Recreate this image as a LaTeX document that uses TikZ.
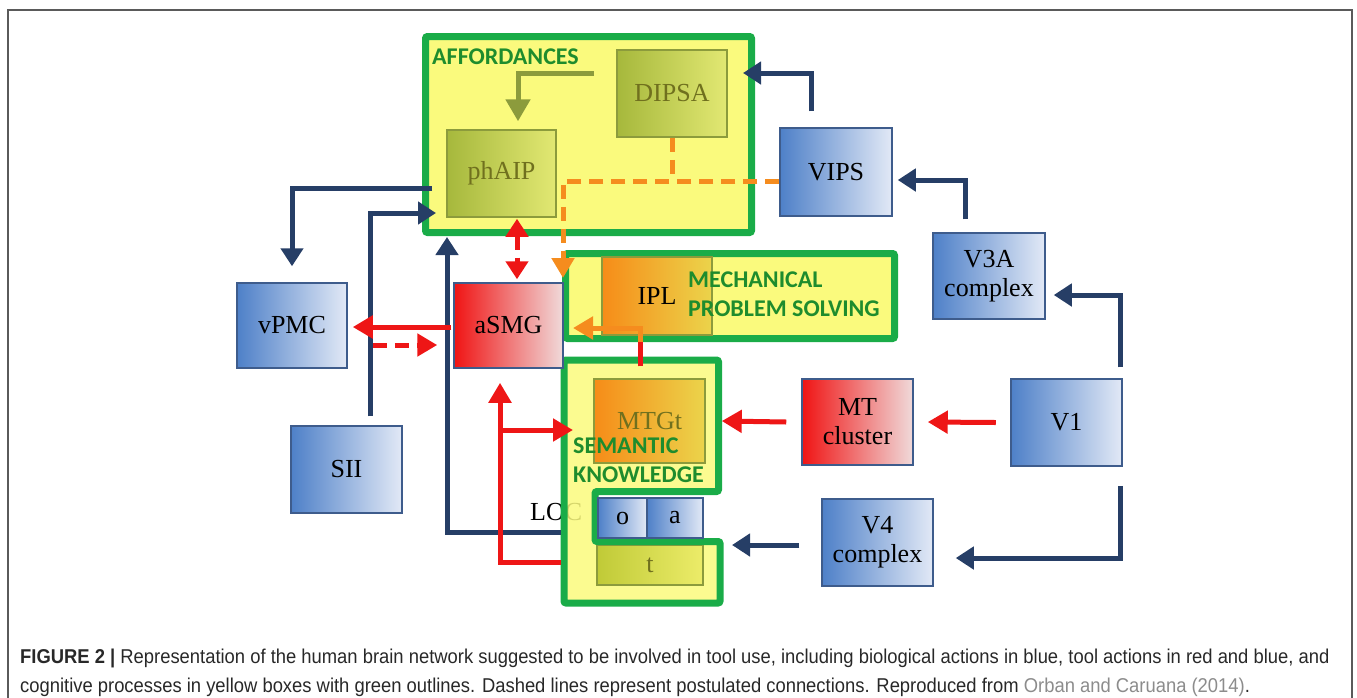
\documentclass[tikz,border=0pt]{standalone}
\usepackage{fontspec}
\setmainfont{Liberation Serif}
\newfontfamily\lblfont{Carlito}
\newfontfamily\capfont[FakeStretch=0.92]{Liberation Sans}
\usetikzlibrary{arrows.meta}
\definecolor{navy}{RGB}{38,62,102}
\definecolor{rred}{RGB}{238,22,22}
\definecolor{gborder}{RGB}{26,172,72}
\definecolor{gtext}{RGB}{30,140,45}
\definecolor{yfill}{RGB}{250,250,125}
\definecolor{bleft}{RGB}{78,128,200}
\definecolor{bright}{RGB}{226,233,246}
\definecolor{bline}{RGB}{62,92,140}
\definecolor{rleft}{RGB}{240,20,20}
\definecolor{rright}{RGB}{240,218,218}
\definecolor{oleft}{RGB}{246,140,24}
\definecolor{oright}{RGB}{235,212,75}
\definecolor{olleft}{RGB}{166,184,60}
\definecolor{olright}{RGB}{226,232,115}
\definecolor{tleft}{RGB}{192,202,55}
\definecolor{tright}{RGB}{236,236,105}
\definecolor{olline}{RGB}{140,155,60}
\definecolor{oltext}{RGB}{112,112,30}
\definecolor{orline}{RGB}{245,140,30}
\definecolor{capgray}{RGB}{40,40,40}
\definecolor{linkgray}{RGB}{140,140,140}
\definecolor{framegray}{RGB}{90,90,90}
\tikzset{
  boxbase/.style={draw, line width=1.5pt, inner sep=0pt, align=center,
    font=\fontsize{26}{29}\selectfont},
  bluebox/.style={boxbase, draw=bline, left color=bleft, right color=bright},
  redbox/.style={boxbase, draw=bline, left color=rleft, right color=rright},
  olbox/.style={boxbase, draw=olline, left color=olleft, right color=olright, text=oltext},
  orbox/.style={boxbase, draw=olline, left color=oleft, right color=oright},
  tbox/.style={boxbase, draw=olline, left color=tleft, right color=tright, text=oltext},
  gframe/.style={draw=gborder, line width=7pt, rounded corners=2pt},
  glabel/.style={anchor=base west, text=gtext, align=left,
    font=\lblfont\bfseries\fontsize{24}{29}\selectfont, inner sep=0pt},
  nav/.style={draw=navy, line width=5pt, -{Triangle[width=22pt,length=18pt]}},
  redarr/.style={draw=rred, line width=5pt, -{Triangle[width=22pt,length=20pt]}},
  orarr/.style={draw=orline, line width=5pt, -{Triangle[width=22pt,length=20pt]}},
  dsh/.style={dash pattern=on 14pt off 8pt},
  capline/.style={anchor=base west, inner sep=0pt, text=capgray,
    font=\capfont\fontsize{20}{24}\selectfont}
}
\begin{document}
\begin{tikzpicture}[x=1pt,y=-1pt]
\useasboundingbox (0,0) rectangle (1357,697);
\clip (0,0) rectangle (1357,697);
\draw[framegray, line width=1.5pt] (8,10) rectangle (1352,740);

% ---------- yellow frames ----------
\node[gframe, fill=yfill, minimum width=326pt, minimum height=196pt, inner sep=0pt] (aff) at (588.5,134.5) {};
\node[glabel] (afflbl) at (432,64) {AFFORDANCES};
\node[olbox, minimum width=110pt, minimum height=87pt] (dipsa) at (672,93.5) {DIPSA};
\node[olbox, minimum width=109pt, minimum height=87pt] (phaip) at (501.5,173.5) {phAIP};

\node[gframe, fill=yfill, minimum width=329pt, minimum height=85pt, inner sep=0pt] (mech) at (730,296) {};
\node[orbox, minimum width=110pt, minimum height=78pt] (ipl) at (657,296) {IPL};
\node[glabel] (mechlbl) at (688,316) {MECHANICAL\\PROBLEM SOLVING};

\node[anchor=base west, inner sep=0pt, font=\fontsize{26}{29}\selectfont] (loc) at (530,520) {LOC};
\path[fill=yfill, fill opacity=0.85] (564,360) -- (718.5,360) -- (718.5,491.5) -- (595,491.5)
  -- (595,541.5) -- (720,541.5) -- (720,603) -- (564,603) -- cycle;
\node[orbox, minimum width=111pt, minimum height=84pt, text=oltext] (mtgt) at (649.5,421) {MTGt};
\node[tbox, minimum width=106pt, minimum height=40pt] (t) at (650,565) {t};
\draw[gframe] (564,360) -- (718.5,360) -- (718.5,491.5) -- (595,491.5)
  -- (595,541.5) -- (720,541.5) -- (720,603) -- (564,603) -- cycle;
\node[glabel] (semlbl) at (573,482) {SEMANTIC\\KNOWLEDGE};
\node[bluebox, minimum width=49pt, minimum height=40pt] (o) at (622.5,518) {o};
\node[bluebox, minimum width=56pt, minimum height=40pt] (a) at (675,518) {a};

% ---------- other boxes ----------
\node[bluebox, minimum width=110pt, minimum height=85pt] (vpmc) at (292,325.5) {vPMC};
\node[redbox, minimum width=109pt, minimum height=85pt] (asmg) at (508.5,325.5) {aSMG};
\node[bluebox, minimum width=111pt, minimum height=87pt] (sii) at (346.5,469.5) {SII};
\node[bluebox, minimum width=112pt, minimum height=88pt] (vips) at (836,172) {VIPS};
\node[bluebox, minimum width=112pt, minimum height=86pt] (v3a) at (989,276) {V3A\\complex};
\node[bluebox, minimum width=111pt, minimum height=87pt] (v1) at (1066.5,422.5) {V1};
\node[redbox, minimum width=111pt, minimum height=86pt] (mt) at (857.5,422) {MT\\cluster};
\node[bluebox, minimum width=111pt, minimum height=87pt] (v4) at (877.5,542.5) {V4\\complex};

% ---------- free ends ----------
\coordinate (affin) at (743,73);
\coordinate (siiin) at (436,213);
\coordinate (affout) at (432,188);
\coordinate (locout) at (561,532);
\coordinate (tout) at (561,562);
\coordinate (split) at (500,430);
\coordinate (semin) at (573,430);
\coordinate (tin) at (732,545);
\coordinate (iplin) at (573,328);
\coordinate (mechbot) at (640,342);
\coordinate (dashin) at (563,278);
\coordinate (dashT) at (672,181);
\coordinate (olstart) at (594,73);

% ---------- navy connectors ----------
\draw[nav] ([xshift=-25pt,yshift=16pt]vips.north) |- (affin);
\draw[nav] ([xshift=-24pt,yshift=13pt]v3a.north) |- ([xshift=5pt,yshift=-8pt]vips.east);
\draw[nav] ([xshift=53.5pt,yshift=11pt]v1.north) |- ([xshift=8pt,yshift=-19pt]v3a.east);
\draw[nav] ([xshift=53.5pt,yshift=-19pt]v1.south) |- ([xshift=22pt,yshift=-15.5pt]v4.east);
\draw[nav] ([xshift=-22pt,yshift=-2.5pt]v4.west) -- (tin);
\draw[nav] ([xshift=23.5pt,yshift=9pt]sii.north) |- (siiin);
\draw[nav] (affout) -| ([yshift=16pt]vpmc.north);
\draw[nav] (locout) -| ([yshift=-1pt]aff.south -| 447,0);

% ---------- red connectors ----------
\draw[redarr] ([xshift=-2pt,yshift=-1.5pt]asmg.west) -- ([xshift=5pt,yshift=-1.5pt]vpmc.east);
\draw[redarr, dsh] ([xshift=25pt,yshift=-19.5pt]vpmc.east) -- ([xshift=-16pt,yshift=-19.5pt]asmg.west);
\draw[redarr] (tout) -| ([xshift=-8.5pt,yshift=-14pt]asmg.south);
\draw[redarr] (split) -- (semin);
\draw[redarr] ([xshift=-14.5pt]v1.west) -- ([xshift=14pt]mt.east);
\draw[redarr] ([xshift=-15pt]mt.west) -- ([xshift=16pt]mtgt.east);
\draw[draw=rred, line width=5pt, dsh, {Triangle[width=22pt,length=18pt]}-{Triangle[width=22pt,length=18pt]}]
  ([xshift=15.5pt,yshift=-1pt]phaip.south) -- ([xshift=8.5pt,yshift=3pt]asmg.north);

% ---------- orange connectors ----------
\draw[orarr] ([xshift=-9.5pt,yshift=12pt]mtgt.north) |- (iplin);
\draw[rred, line width=5pt] ([xshift=-9.5pt,yshift=12pt]mtgt.north) -- (mechbot);
\draw[orarr, line width=5pt, dsh] (vips.west |- dashT) -| (dashin);
\draw[orline, line width=5pt, dsh] (dipsa.south) -- (dashT);

% ---------- olive connector ----------
\draw[olline, line width=5pt, -{Triangle[width=24pt,length=22pt]}] (olstart) -| ([xshift=16.5pt,yshift=8pt]phaip.north);

% ---------- caption ----------
\node[capline] (cap1) at (20,663) {{\bfseries FIGURE 2 |} Representation of the human brain network suggested to be involved in tool use, including biological actions in blue, tool actions in red and blue, and};
\node[capline] (cap2) at (20,692) {cognitive processes in yellow boxes with green outlines. Dashed lines represent postulated connections. Reproduced from \textcolor{linkgray}{Orban and Caruana (2014)}.};
\end{tikzpicture}
\end{document}
